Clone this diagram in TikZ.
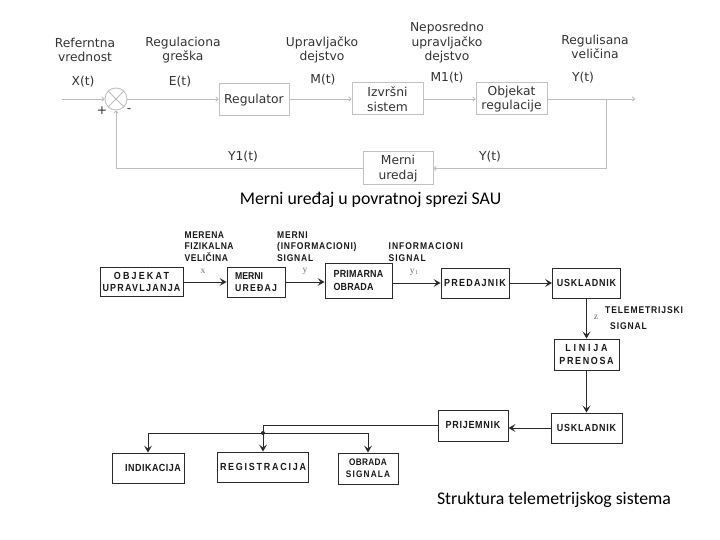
\documentclass[tikz,border=0pt]{standalone}
\usepackage{fontspec}
\setmainfont{DejaVu Sans}
\newfontfamily\capfont{Carlito}
\newfontfamily\lowfont[FakeStretch=0.87]{Liberation Sans}
\newfontfamily\serfont{Liberation Serif}
\usetikzlibrary{arrows.meta}
\definecolor{tline}{HTML}{BDBDBD}
\definecolor{tbox}{HTML}{C2C2C2}
\definecolor{ttext}{HTML}{333333}
\definecolor{lline}{HTML}{2A2A2A}
\newcommand{\lsp}[2]{{\addfontfeature{LetterSpace=#1}#2}}
\begin{document}
\begin{tikzpicture}[x=1pt,y=-1pt,
 tbx/.style={draw=tbox,line width=1pt,minimum width=70pt,minimum height=32pt,inner sep=0pt,align=center,text=ttext,font=\fontsize{12.3}{14.5}\selectfont},
 tlab/.style={text=ttext,align=center,font=\fontsize{12.3}{14.5}\selectfont,inner sep=0pt},
 tarr/.style={draw=tline,line width=0.9pt,-{To[length=3pt,width=5pt]}},
 tln/.style={draw=tline,line width=0.9pt},
 lbx/.style={draw=lline,line width=0.95pt,inner sep=0pt,align=center,text=black!90,font=\fontsize{10.3}{12.5}\selectfont\lowfont\bfseries},
 llab/.style={align=left,inner sep=0pt,anchor=north west,text=black!90,font=\fontsize{9.8}{11.3}\selectfont\lowfont\bfseries},
 larr/.style={draw=lline,line width=1pt,-{Stealth[length=7pt,width=8pt,inset=3pt]}},
 lln/.style={draw=lline,line width=1pt},
 var/.style={text=black!55,font=\fontsize{9.5}{10}\selectfont\serfont,inner sep=0pt},
 captxt/.style={font=\fontsize{17.8}{20}\selectfont\capfont,inner sep=0pt},
]
\useasboundingbox (0,0) rectangle (720,540);
\fill[white] (0,0) rectangle (720,540);

% ---------- top diagram ----------
\node[circle,draw=tbox,line width=0.9pt,minimum size=22pt,inner sep=0pt] (sum) at (116,99) {};
\draw[tln] (sum.45)--(sum.225) (sum.135)--(sum.315);
\coordinate (in) at (62,99);
\node[tbx] (reg) at (254,100) {Regulator};
\node[tbx,minimum width=71pt] (izv) at (387.5,99) {Izvršni\\sistem};
\node[tbx,minimum width=71pt] (obj) at (511.5,99) {Objekat\\regulacije};
\coordinate (out) at (635,99);
\coordinate (br) at (606,99);
\node[tbx,minimum height=33pt] (mer) at (398,168.5) {Merni\\uredaj};
\coordinate (brd) at (606,168.5);

\draw[tarr] (in)--(sum);
\draw[tarr] (sum)--(sum-|reg.west);
\draw[tarr] (reg.east|-izv)--(izv);
\draw[tarr] (izv)--(obj);
\draw[tarr] (obj)--(out);
\draw[tarr] (br)--(brd)--(mer);
\draw[tarr] (mer.west) -| (sum.south);

\node[tlab] (l1) at (85,50) {Referntna\\vrednost};
\node[tlab] (v1) at (83,82) {X(t)};
\node[tlab] (l2) at (183,50) {Regulaciona\\greška};
\node[tlab] (v2) at (180,82) {E(t)};
\node[tlab] (l3) at (322,50) {Upravljačko\\dejstvo};
\node[tlab] (v3) at (323,80) {M(t)};
\node[tlab] (l4) at (447,43) {Neposredno\\upravljačko\\dejstvo};
\node[tlab] (v4) at (447,78) {M1(t)};
\node[tlab] (l5) at (595,47) {Regulisana\\veličina};
\node[tlab] (v5) at (583,78) {Y(t)};
\node[tlab] (v6) at (490,157) {Y(t)};
\node[tlab] (v7) at (243,157) {Y1(t)};
\node[tlab] (plus) at (102,111) {+};
\node[tlab] (minus) at (129,111) {-};

\node[captxt] (c1) at (370.5,200) {Merni uređaj u povratnoj sprezi SAU};

% ---------- bottom diagram ----------
\node[lbx,minimum width=83pt,minimum height=29pt] (objup) at (141.5,282) {\lsp{21}{OBJEKAT}\\\lsp{12}{UPRAVLJANJA}};
\node[lbx,minimum width=58pt,minimum height=30pt,align=left,font=\fontsize{10}{12.5}\selectfont\lowfont\bfseries] (meru) at (256,282) {MERNI\\\lsp{12}{UREĐAJ}};
\node[lbx,minimum width=67pt,minimum height=35pt,align=left] (prim) at (358.5,280.5) {\lsp{2}{PRIMARNA}\\\lsp{1}{OBRADA}};
\node[lbx,minimum width=68pt,minimum height=30pt] (pred) at (475,283) {\lsp{12}{PREDAJNIK}};
\node[lbx,minimum width=68pt,minimum height=30pt] (usk1) at (586.5,283) {\lsp{8}{USKLADNIK}};
\node[lbx,minimum width=65pt,minimum height=31pt] (lin) at (586.5,354.5) {\lsp{27}{LINIJA}\\\lsp{16}{PRENOSA}};
\node[lbx,minimum width=71pt,minimum height=30pt] (usk2) at (586.5,428) {\lsp{8}{USKLADNIK}};
\node[lbx,minimum width=70pt,minimum height=31pt] (prij) at (473,425.5) {\lsp{7}{PRIJEMNIK}};
\node[lbx,minimum width=72pt,minimum height=30pt] (ind) at (148,468) {\hspace*{10pt}\lsp{5}{INDIKACIJA}};
\node[lbx,minimum width=91pt,minimum height=30pt] (regi) at (263,467) {\lsp{17}{REGISTRACIJA}};
\node[lbx,minimum width=60pt,minimum height=31pt,font=\fontsize{9.5}{12}\selectfont\lowfont\bfseries] (obr) at (368,468.5) {\lsp{3}{OBRADA}\\\lsp{12}{SIGNALA}};

\draw[larr] (objup.east|-meru) -- (meru.west);
\draw[larr] (meru.east) -- (meru-|prim.west);
\draw[larr] (prim.east|-pred) -- (pred.west);
\draw[larr] (pred) -- (usk1);
\draw[larr] (usk1) -- (lin);
\draw[larr] (lin) -- (usk2);
\draw[larr] (usk2.west) -- (usk2-|prij.east);

\coordinate (j) at (263,433);
\draw[lln] (prij.west) -| (j);
\draw[larr] (j) -- (regi.north);
\draw[larr] (j) -| (ind.north);
\draw[larr] (j) -| (obr.north);
\fill[lline] (j) circle (2pt);

\node[llab] (t1) at (184.5,231.5) {\lsp{5}{MERENA}\\\lsp{5}{FIZIKALNA}\\\lsp{5}{VELIČINA}};
\node[llab] (t2) at (277,231.5) {\lsp{8}{MERNI}\\\lsp{8}{(INFORMACIONI)}\\\lsp{8}{SIGNAL}};
\node[llab] (t3) at (388.5,242.8) {\lsp{10}{INFORMACIONI}\\\lsp{10}{SIGNAL}};
\node[llab] (t4) at (605,306) {\lsp{9}{TELEMETRIJSKI}};
\node[llab] (t5) at (610,322) {\lsp{9}{SIGNAL}};

\node[var] (vx) at (203,271) {x};
\node[var] (vy) at (305,271) {y};
\node[var] (vy1) at (414,272) {y\kern0.3pt\raisebox{-1.5pt}{\fontsize{6}{6}\selectfont 1}};
\node[var] (vz) at (596,317) {z};

\node[captxt] (c2) at (554,500) {Struktura telemetrijskog sistema};
\end{tikzpicture}
\end{document}
